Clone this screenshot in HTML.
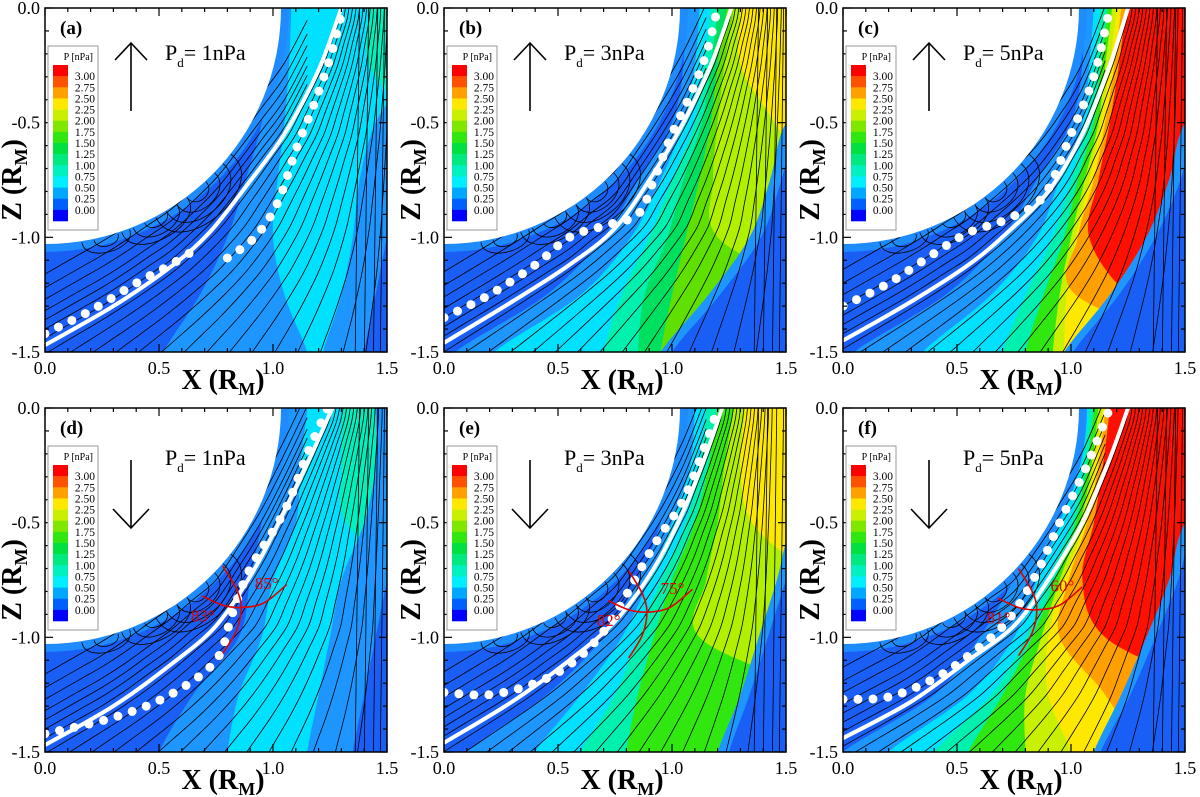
<!DOCTYPE html>
<html><head><meta charset="utf-8"><title>Pressure panels</title>
<style>
html,body{margin:0;padding:0;background:#fff;}
svg{display:block;}
text{font-family:"Liberation Serif",serif;}
</style></head>
<body>
<svg id="fig" width="1200" height="797" viewBox="0 0 1200 797" xmlns="http://www.w3.org/2000/svg"></svg>
<script>
// ---------- data ----------
const panelLabels = ["(a)","(b)","(c)","(d)","(e)","(f)"];
const pdValues = ["1nPa","3nPa","5nPa","1nPa","3nPa","5nPa"];
const imfUp = [true,true,true,false,false,false];
const legendLabels = ["3.00","2.75","2.50","2.25","2.00","1.75","1.50","1.25","1.00","0.75","0.50","0.25","0.00"];
const legendColors = ["#ff0000","#ff5200","#ffa000","#ffe800","#c8f000","#80e800","#30e810","#00e040","#00e880","#00f0c0","#00eeff","#00a8ff","#0060ff","#0000ff"];
const xTicks = [0,0.5,1.0,1.5];
const xTickLabels = ["0.0","0.5","1.0","1.5"];
const zTicks = [0,-0.5,-1.0,-1.5];
const zTickLabels = ["0.0","-0.5","-1.0","-1.5"];
const zLevels = [0,-0.25,-0.5,-0.75,-1.0,-1.25,-1.5];
const bgColor = "#1a5ff5";
const bandsA = [["#1e96ff",[0.98,0.98,0.95,0.88,0.80,0.68,0.52]],["#00e0ff",[1.08,1.07,1.05,1.02,1.0,1.05,1.15]],["#00f0c0",[1.42,1.42,1.6,1.6,1.6,1.6,1.6]],["#1e96ff",[1.6,1.6,1.45,1.38,1.35,1.3,1.22]],["#1a5ff5",[1.7,1.7,1.65,1.55,1.5,1.45,1.4]]];
const bandsB = [["#1e96ff",[1.05,1.05,1.0,0.85,0.7,0.45,0.05]],["#00e0ff",[1.12,1.1,1.05,0.95,0.82,0.6,0.22]],["#00f0b0",[1.17,1.14,1.1,1.0,0.9,0.78,0.7]],["#00e060",[1.2,1.17,1.13,1.05,0.98,0.88,0.85]],["#60e000",[1.24,1.2,1.17,1.12,1.06,1.0,0.95]],["#b0f000",[1.27,1.23,1.2,1.18,1.2,1.6,1.6]],["#ffe800",[1.3,1.3,1.45,1.6,1.6,1.6,1.6]],["#1e96ff",[1.7,1.7,1.5,1.43,1.34,1.16,0.95]],["#1a5ff5",[1.7,1.7,1.55,1.48,1.39,1.21,1.0]]];
const bandsC = [["#1e96ff",[1.05,1.05,1.0,0.85,0.7,0.45,0.05]],["#00e0ff",[1.1,1.08,1.05,0.95,0.85,0.65,0.35]],["#00f0b0",[1.13,1.1,1.07,1.0,0.92,0.8,0.7]],["#30e810",[1.16,1.13,1.1,1.03,0.97,0.88,0.8]],["#c8f000",[1.18,1.15,1.12,1.06,1.0,0.95,0.92]],["#ffe800",[1.2,1.17,1.13,1.08,1.02,0.98,0.97]],["#ffa000",[1.22,1.19,1.15,1.1,1.03,1.02,1.6]],["#ff1000",[1.24,1.21,1.17,1.12,1.08,1.25,1.6]],["#1e96ff",[1.7,1.7,1.5,1.43,1.33,1.17,0.97]],["#1a5ff5",[1.7,1.7,1.55,1.48,1.37,1.21,1.01]]];
const bandsD = [["#1e96ff",[0.98,0.98,0.95,0.9,0.85,0.65,0.5]],["#00e0ff",[1.15,1.12,1.1,1.0,0.95,0.85,0.8]],["#00f0c0",[1.3,1.3,1.32,1.6,1.6,1.6,1.6]],["#1e96ff",[1.45,1.45,1.4,1.3,1.25,1.2,1.15]],["#1a5ff5",[1.7,1.7,1.55,1.5,1.45,1.4,1.35]]];
const bandsE = [["#1e96ff",[1.0,1.0,0.95,0.85,0.7,0.45,0.1]],["#00e0ff",[1.1,1.08,1.0,0.9,0.78,0.6,0.4]],["#00f0b0",[1.15,1.12,1.06,0.95,0.85,0.75,0.6]],["#30e810",[1.2,1.16,1.1,1.0,0.92,0.85,0.8]],["#b0f000",[1.27,1.23,1.2,1.15,1.12,1.6,1.6]],["#ffe800",[1.32,1.3,1.35,1.6,1.6,1.6,1.6]],["#1e96ff",[1.7,1.7,1.53,1.46,1.38,1.3,1.2]],["#1a5ff5",[1.7,1.7,1.58,1.5,1.42,1.34,1.25]]];
const bandsF = [["#1e96ff",[1.0,1.0,0.9,0.75,0.6,0.4,0.0]],["#00e0ff",[1.05,1.03,0.95,0.85,0.75,0.55,0.2]],["#00f0b0",[1.08,1.05,1.0,0.9,0.8,0.65,0.4]],["#30e810",[1.1,1.07,1.02,0.93,0.83,0.7,0.55]],["#c8f000",[1.12,1.09,1.04,0.95,0.87,0.8,0.8]],["#ffe800",[1.14,1.1,1.06,0.97,0.9,0.9,1.0]],["#ffa000",[1.15,1.12,1.07,0.99,0.95,1.15,1.3]],["#ff1000",[1.17,1.14,1.1,1.05,1.15,1.6,1.6]],["#1e96ff",[1.7,1.7,1.5,1.43,1.33,1.22,1.1]],["#1a5ff5",[1.7,1.7,1.54,1.47,1.37,1.26,1.13]]];
const allBands = [bandsA,bandsB,bandsC,bandsD,bandsE,bandsF];
const solidLines = [
 [[0,-1.47],[0.3,-1.3],[0.55,-1.13],[0.72,-0.98],[0.88,-0.78],[1.05,-0.55],[1.2,-0.27],[1.3,0]],
 [[0,-1.46],[0.3,-1.28],[0.55,-1.12],[0.75,-0.96],[0.92,-0.72],[1.05,-0.5],[1.17,-0.25],[1.26,0]],
 [[0,-1.45],[0.3,-1.28],[0.55,-1.12],[0.72,-0.98],[0.9,-0.8],[1.05,-0.55],[1.17,-0.25],[1.25,0]],
 [[0,-1.47],[0.3,-1.3],[0.55,-1.12],[0.75,-0.95],[0.92,-0.7],[1.05,-0.45],[1.17,-0.2],[1.26,0]],
 [[0,-1.46],[0.3,-1.28],[0.55,-1.1],[0.75,-0.93],[0.92,-0.7],[1.05,-0.45],[1.15,-0.2],[1.22,0]],
 [[0,-1.44],[0.3,-1.28],[0.55,-1.1],[0.75,-0.95],[0.9,-0.75],[1.05,-0.5],[1.17,-0.22],[1.25,0]]];
const dotLines = [
 [[[0,-1.42],[0.2,-1.32],[0.4,-1.2],[0.55,-1.12],[0.68,-1.04]],[[0.8,-1.09],[0.92,-1.0],[1.02,-0.85],[1.1,-0.62],[1.18,-0.42],[1.25,-0.22],[1.3,-0.03]]],
 [[[0,-1.35],[0.2,-1.25],[0.4,-1.12],[0.55,-1.0],[0.7,-0.95],[0.85,-0.9],[0.92,-0.75],[1.0,-0.55],[1.08,-0.38],[1.15,-0.2],[1.2,0]]],
 [[[0,-1.3],[0.2,-1.2],[0.4,-1.07],[0.55,-0.98],[0.72,-0.92],[0.88,-0.82],[1.0,-0.55],[1.1,-0.3],[1.17,0]]],
 [[[0,-1.42],[0.3,-1.35],[0.55,-1.25],[0.75,-1.1],[0.82,-0.9],[0.9,-0.7],[1.05,-0.45],[1.15,-0.2],[1.24,0]]],
 [[[0,-1.24],[0.2,-1.25],[0.4,-1.2],[0.55,-1.12],[0.68,-1.0],[0.78,-0.85],[0.92,-0.6],[1.05,-0.4],[1.15,-0.15],[1.2,0]]],
 [[[0,-1.27],[0.2,-1.26],[0.4,-1.18],[0.55,-1.08],[0.72,-0.93],[0.85,-0.72],[0.95,-0.5],[1.07,-0.25],[1.17,0]]]];
const sheathOffsets = [0.01,0.025,0.04,0.055,0.07,0.085,0.1,0.115,0.13,0.145,0.16,0.175,0.19,0.205,0.22];
const verticalLineX = [1.38,1.42,1.46,1.49];
const innerShifts = [0.03,0.07,0.11,0.15,0.2,0.25,0.31];
// cusp loops: [centre angle deg, half-width deg, height]
const cuspLoops = [[40,3,0.05],[40,6,0.09],[40,9,0.13],[40,12,0.17],[28,3,0.04],[28,6,0.08],[28,9,0.11],[15,3,0.04],[15,6,0.07]];
const angleText = [null,null,null,["85°","83°"],["75°","82°"],["60°","81°"]];
const xCenters = [null,null,null,[0.86,-0.87],[0.89,-0.89],[0.85,-0.88]];

// ---------- layout ----------
const NS = "http://www.w3.org/2000/svg";
const svg = document.getElementById("fig");
const colX = [45,444,843], rowY = [8,408];
const PW = 342, PH = 344;
function el(tag, attrs, parent){const e=document.createElementNS(NS,tag);for(const k in attrs)e.setAttribute(k,attrs[k]);(parent||svg).appendChild(e);return e;}
function crPath(pts){
  if(pts.length<2)return "";
  let d="M"+pts[0][0].toFixed(1)+","+pts[0][1].toFixed(1);
  for(let i=0;i<pts.length-1;i++){
    const p0=pts[i-1]||pts[i],p1=pts[i],p2=pts[i+1],p3=pts[i+2]||p2;
    const c1=[p1[0]+(p2[0]-p0[0])/6,p1[1]+(p2[1]-p0[1])/6];
    const c2=[p2[0]-(p3[0]-p1[0])/6,p2[1]-(p3[1]-p1[1])/6];
    d+=" C"+c1[0].toFixed(1)+","+c1[1].toFixed(1)+" "+c2[0].toFixed(1)+","+c2[1].toFixed(1)+" "+p2[0].toFixed(1)+","+p2[1].toFixed(1);
  }
  return d;
}
function interpX(line,z){
  const s=line.slice().sort((a,b)=>a[1]-b[1]);
  if(z<=s[0][1]){const a=s[0],b=s[1];return a[0]+(z-a[1])*(b[0]-a[0])/(b[1]-a[1]);}
  for(let i=0;i<s.length-1;i++){if(z>=s[i][1]&&z<=s[i+1][1]){const a=s[i],b=s[i+1];return a[0]+(z-a[1])*(b[0]-a[0])/(b[1]-a[1]);}}
  return s[s.length-1][0];
}

for(let p=0;p<6;p++){
  const x0=colX[p%3], y0=rowY[Math.floor(p/3)];
  const sx=v=>x0+v/1.5*PW, sy=v=>y0+(-v)/1.5*PH;
  const g=el("g",{});
  
  
  const clipId="clip"+p;
  const cp=el("clipPath",{id:clipId},g);
  el("rect",{x:x0,y:y0,width:PW,height:PH},cp);
  const field=el("g",{"clip-path":"url(#"+clipId+")"},g);
  
  
  el("rect",{x:x0,y:y0,width:PW,height:PH,fill:bgColor},field);
  allBands[p].forEach((b,i)=>{
    const pts=zLevels.map((z,k)=>[sx(b[1][k]),sy(z)]);
    const ext=[[pts[0][0],y0-20],...pts,[pts[pts.length-1][0],y0+PH+20]];
    let d=crPath(ext)+" L"+(x0+PW+40)+","+(y0+PH+20)+" L"+(x0+PW+40)+","+(y0-20)+" Z";
    const band=el("path",{d:d,fill:b[0]},field);
    
    
  });
  const rim=el("circle",{cx:sx(0),cy:sy(0),r:1.07/1.5*PW,fill:"#1e8cff"},field);
  
  
  const sl=el("g",{fill:"none",stroke:"#000","stroke-width":0.8},field);
  
  
  const solid=solidLines[p];
  const top0=interpX(solid,0);
  sheathOffsets.forEach(o=>{
    const k=Math.max(0,1-o/0.24);
    const pts=[];
    for(let z=0.05;z>=-1.56;z-=0.1){pts.push([sx(top0+o+(interpX(solid,z)-top0)*k),sy(z)]);}
    const ln=el("path",{d:crPath(pts)},sl);
    
    
  });
  verticalLineX.forEach(vx=>{
    const ln=el("path",{d:"M"+sx(vx)+","+sy(0.05)+" L"+sx(vx-0.02)+","+sy(-1.55)},sl);
    
    
  });
  innerShifts.forEach(dz=>{
    const pts=[];
    for(let x=-0.05;x<=1.2;x+=0.1){
      let z=null; const s=solid;
      for(let i=0;i<s.length-1;i++){if(x>=s[i][0]&&x<=s[i+1][0]){z=s[i][1]+(x-s[i][0])*(s[i+1][1]-s[i][1])/(s[i+1][0]-s[i][0]);}}
      if(z===null)z=s[0][1]+(x-s[0][0])*(s[1][1]-s[0][1])/(s[1][0]-s[0][0]);
      pts.push([sx(x),sy(z+dz)]);
    }
    const ln=el("path",{d:crPath(pts)},sl);
    
    
  });
  const R=1.035;
  cuspLoops.forEach(c=>{
    const a1=(c[0]-c[1])*Math.PI/180,a2=(c[0]+c[1])*Math.PI/180,h=c[2]*1.35;
    const P1=[R*Math.sin(a1),-R*Math.cos(a1)],P2=[R*Math.sin(a2),-R*Math.cos(a2)];
    const C1=[P1[0]+h*Math.sin(a1),P1[1]-h*Math.cos(a1)],C2=[P2[0]+h*Math.sin(a2),P2[1]-h*Math.cos(a2)];
    const ln=el("path",{d:"M"+sx(P1[0])+","+sy(P1[1])+" C"+sx(C1[0])+","+sy(C1[1])+" "+sx(C2[0])+","+sy(C2[1])+" "+sx(P2[0])+","+sy(P2[1])},sl);
    
    
  });
  const planet=el("circle",{cx:sx(0),cy:sy(0),r:R/1.5*PW,fill:"#fff"},field);
  
  
  const wl=el("path",{d:crPath(solid.map(q=>[sx(q[0]),sy(q[1])])),fill:"none",stroke:"#fff","stroke-width":4},field);
  
  
  dotLines[p].forEach(run=>{
    const dl=el("path",{d:crPath(run.map(q=>[sx(q[0]),sy(q[1])])),fill:"none",stroke:"#fff","stroke-width":9,"stroke-linecap":"round","stroke-dasharray":"0 15"},field);
    
    
  });
  if(xCenters[p]){
    const c=xCenters[p];
    const rg=el("g",{fill:"none",stroke:"#e00000","stroke-width":1.6},field);
    
    
    el("path",{d:crPath([[sx(c[0]-0.17),sy(c[1]+0.05)],[sx(c[0]-0.08),sy(c[1]+0.01)],[sx(c[0]),sy(c[1])],[sx(c[0]+0.1),sy(c[1]+0.02)],[sx(c[0]+0.2),sy(c[1]+0.1)]])},rg);
    el("path",{d:crPath([[sx(c[0]-0.08),sy(c[1]+0.18)],[sx(c[0]-0.02),sy(c[1]+0.08)],[sx(c[0]),sy(c[1])],[sx(c[0]-0.02),sy(c[1]-0.1)],[sx(c[0]-0.08),sy(c[1]-0.2)]])},rg);
    const t1=el("text",{x:sx(c[0]+0.06),y:sy(c[1]+0.08),fill:"#e00000","font-size":17},field);
    t1.textContent=angleText[p][0];
    
    
    const t2=el("text",{x:sx(c[0]-0.22),y:sy(c[1]-0.06),fill:"#e00000","font-size":17},field);
    t2.textContent=angleText[p][1];
    
    
  }
  const fr=el("rect",{x:x0,y:y0,width:PW,height:PH,fill:"none",stroke:"#000","stroke-width":1.5},g);
  
  
  const tk=el("g",{stroke:"#000","stroke-width":1.2},g);
  
  
  for(let i=0;i<=15;i++){
    const v=i/10, L=(i%5===0)?8:4;
    el("line",{x1:sx(v),y1:y0+PH,x2:sx(v),y2:y0+PH-L},tk);
    el("line",{x1:sx(v),y1:y0,x2:sx(v),y2:y0+L},tk);
    el("line",{x1:x0,y1:sy(-v),x2:x0+L,y2:sy(-v)},tk);
    el("line",{x1:x0+PW,y1:sy(-v),x2:x0+PW-L,y2:sy(-v)},tk);
  }
  xTicks.forEach((v,i)=>{
    const t=el("text",{x:sx(v),y:y0+PH+22,"font-size":18,"text-anchor":"middle"},g);
    t.textContent=xTickLabels[i];
    
    
  });
  zTicks.forEach((v,i)=>{
    const t=el("text",{x:x0-5,y:sy(v)+6,"font-size":18,"text-anchor":"end"},g);
    t.textContent=zTickLabels[i];
    
    
  });
  const xt=el("text",{x:x0+178,y:y0+PH+37,"font-size":28,"font-weight":"bold","text-anchor":"middle"},g);
  xt.innerHTML='X (R<tspan font-size="18" dy="6">M</tspan><tspan dy="-6">)</tspan>';
  
  
  const zt=el("text",{x:0,y:0,"font-size":28,"font-weight":"bold","text-anchor":"middle",transform:"translate("+(x0-24)+","+(y0+172)+") rotate(-90)"},g);
  zt.innerHTML='Z (R<tspan font-size="18" dy="6">M</tspan><tspan dy="-6">)</tspan>';
  
  
  const pl=el("text",{x:x0+15,y:y0+26,"font-size":19,"font-weight":"bold"},g);
  pl.textContent=panelLabels[p];
  
  
  const lg=el("g",{},g);
  
  
  el("rect",{x:x0+3,y:y0+38,width:50,height:184,fill:"#fff",stroke:"#999","stroke-width":1},lg);
  const lt=el("text",{x:x0+48,y:y0+52,"font-size":10,"text-anchor":"end"},lg);
  lt.textContent="P [nPa]";
  const sh=156/legendColors.length;
  legendColors.forEach((c,i)=>{el("rect",{x:x0+8,y:y0+57+i*sh,width:15,height:sh+0.3,fill:c},lg);});
  legendLabels.forEach((l,i)=>{
    const t=el("text",{x:x0+50,y:y0+57+sh*(i+1)+4,"font-size":11.5,"text-anchor":"end"},lg);
    t.textContent=l;
  });
  const ar=el("g",{stroke:"#000","stroke-width":1.6,fill:"none"},g);
  
  
  const ax=x0+86;
  if(imfUp[p]){
    el("line",{x1:ax,y1:y0+103,x2:ax,y2:y0+35},ar);
    el("polyline",{points:(ax-16)+","+(y0+52)+" "+ax+","+(y0+35)+" "+(ax+16)+","+(y0+52)},ar);
  }else{
    el("line",{x1:ax,y1:y0+52,x2:ax,y2:y0+120},ar);
    el("polyline",{points:(ax-18)+","+(y0+101)+" "+ax+","+(y0+120)+" "+(ax+18)+","+(y0+101)},ar);
  }
  const pd=el("text",{x:x0+120,y:y0+(imfUp[p]?52:57),"font-size":22},g);
  pd.innerHTML='P<tspan font-size="13" dy="7">d</tspan><tspan dy="-7">= '+pdValues[p]+'</tspan>';
  
  
}
</script>
</body></html>
